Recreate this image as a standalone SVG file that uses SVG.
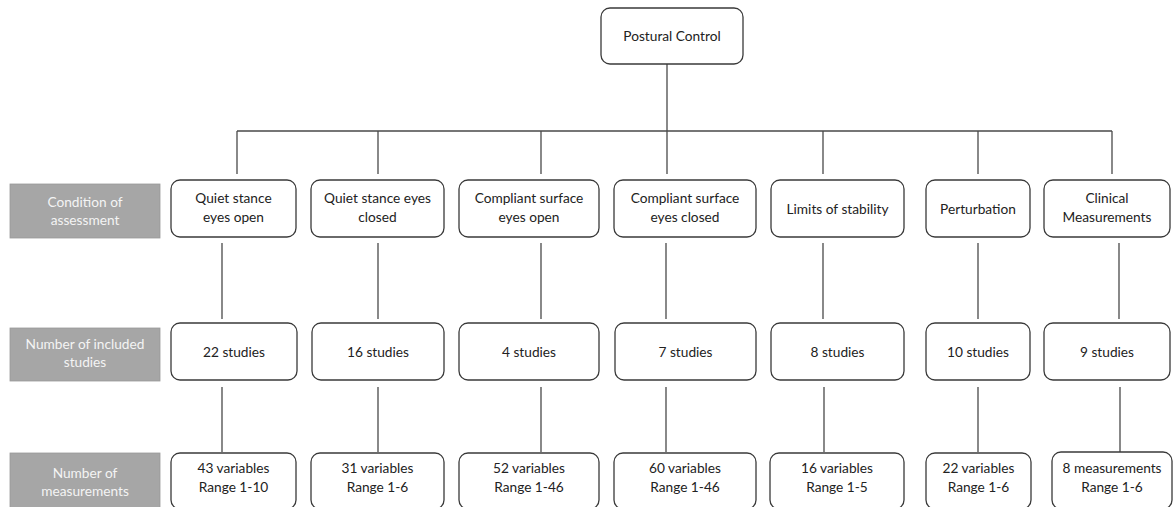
<svg xmlns="http://www.w3.org/2000/svg" width="1175" height="507" viewBox="0 0 1175 507">
<style>
.bg{fill:#ffffff}
.box{fill:#ffffff;stroke:#3a3a3a;stroke-width:1.3}
.lab{fill:#a6a6a6;stroke:#9a9a9a;stroke-width:0.8}
.t{font-family:Lato,"Open Sans","Liberation Sans",sans-serif;font-size:13.7px;fill:#222222;text-anchor:middle}
.w{font-family:Lato,"Open Sans","Liberation Sans",sans-serif;font-size:13.7px;fill:#f4f4f4;text-anchor:middle}
.c{stroke:#4a4a4a;stroke-width:1.3;fill:none}
</style>
<rect class="bg" x="0" y="0" width="1175" height="507"/>
<g id="connectors">
<path class="c" d="M667 64V174M237 131H1112M237 131V174M378 131V174M541 131V174M823 131V174M978 131V174M1112 131V174"/>
<path class="c" d="M222 243V319M378 243V319M541 243V319M666 243V319M823 243V319M978 243V319M1119 243V319"/>
<path class="c" d="M222 387V452M378 387V452M541 387V452M666 387V452M824 387V452M978 387V452M1120 387V452"/>
</g>
<g id="root"><rect class="box" x="601" y="8" width="142" height="56" rx="9"/><text class="t" x="672" y="41">Postural Control</text></g>
<g id="label-condition"><rect class="lab" x="10" y="184" width="150" height="54"/><text class="w" x="85" y="207">Condition of</text><text class="w" x="85" y="225">assessment</text></g>
<g id="label-studies"><rect class="lab" x="10" y="328" width="150" height="53"/><text class="w" x="85" y="349">Number of included</text><text class="w" x="85" y="367">studies</text></g>
<g id="label-measurements"><rect class="lab" x="10" y="453" width="150" height="56"/><text class="w" x="85" y="478">Number of</text><text class="w" x="85" y="496">measurements</text></g>

<g id="c1"><rect class="box" x="171" y="180" width="125" height="57" rx="9"/><text class="t" x="233.5" y="203">Quiet stance</text><text class="t" x="233.5" y="222">eyes open</text></g>
<g id="c2"><rect class="box" x="311" y="180" width="133" height="57" rx="9"/><text class="t" x="377.5" y="203">Quiet stance eyes</text><text class="t" x="377.5" y="222">closed</text></g>
<g id="c3"><rect class="box" x="459" y="180" width="140" height="57" rx="9"/><text class="t" x="529" y="203">Compliant surface</text><text class="t" x="529" y="222">eyes open</text></g>
<g id="c4"><rect class="box" x="614" y="180" width="142" height="57" rx="9"/><text class="t" x="685" y="203">Compliant surface</text><text class="t" x="685" y="222">eyes closed</text></g>
<g id="c5"><rect class="box" x="771" y="180" width="133" height="57" rx="9"/><text class="t" x="837.5" y="214">Limits of stability</text></g>
<g id="c6"><rect class="box" x="926" y="180" width="104" height="57" rx="9"/><text class="t" x="978" y="214">Perturbation</text></g>
<g id="c7"><rect class="box" x="1044" y="180" width="126" height="57" rx="9"/><text class="t" x="1107" y="203">Clinical</text><text class="t" x="1107" y="222">Measurements</text></g>

<g id="s1"><rect class="box" x="171" y="323" width="126" height="57" rx="9"/><text class="t" x="234" y="357">22 studies</text></g>
<g id="s2"><rect class="box" x="312" y="323" width="132" height="57" rx="9"/><text class="t" x="378" y="357">16 studies</text></g>
<g id="s3"><rect class="box" x="459" y="323" width="140" height="57" rx="9"/><text class="t" x="529" y="357">4 studies</text></g>
<g id="s4"><rect class="box" x="615" y="323" width="141" height="57" rx="9"/><text class="t" x="685.5" y="357">7 studies</text></g>
<g id="s5"><rect class="box" x="771" y="323" width="133" height="57" rx="9"/><text class="t" x="837.5" y="357">8 studies</text></g>
<g id="s6"><rect class="box" x="926" y="323" width="104" height="57" rx="9"/><text class="t" x="978" y="357">10 studies</text></g>
<g id="s7"><rect class="box" x="1044" y="323" width="126" height="57" rx="9"/><text class="t" x="1107" y="357">9 studies</text></g>

<g id="m1"><rect class="box" x="171" y="453" width="125" height="56" rx="9"/><text class="t" x="233.5" y="473">43 variables</text><text class="t" x="233.5" y="492">Range 1-10</text></g>
<g id="m2"><rect class="box" x="311" y="453" width="133" height="56" rx="9"/><text class="t" x="377.5" y="473">31 variables</text><text class="t" x="377.5" y="492">Range 1-6</text></g>
<g id="m3"><rect class="box" x="459" y="453" width="140" height="56" rx="9"/><text class="t" x="529" y="473">52 variables</text><text class="t" x="529" y="492">Range 1-46</text></g>
<g id="m4"><rect class="box" x="614" y="453" width="142" height="56" rx="9"/><text class="t" x="685" y="473">60 variables</text><text class="t" x="685" y="492">Range 1-46</text></g>
<g id="m5"><rect class="box" x="770" y="453" width="134" height="56" rx="9"/><text class="t" x="837" y="473">16 variables</text><text class="t" x="837" y="492">Range 1-5</text></g>
<g id="m6"><rect class="box" x="926" y="453" width="105" height="56" rx="9"/><text class="t" x="978.5" y="473">22 variables</text><text class="t" x="978.5" y="492">Range 1-6</text></g>
<g id="m7"><rect class="box" x="1052" y="452" width="120" height="57" rx="9"/><text class="t" x="1112" y="473">8 measurements</text><text class="t" x="1112" y="492">Range 1-6</text></g>
</svg>
